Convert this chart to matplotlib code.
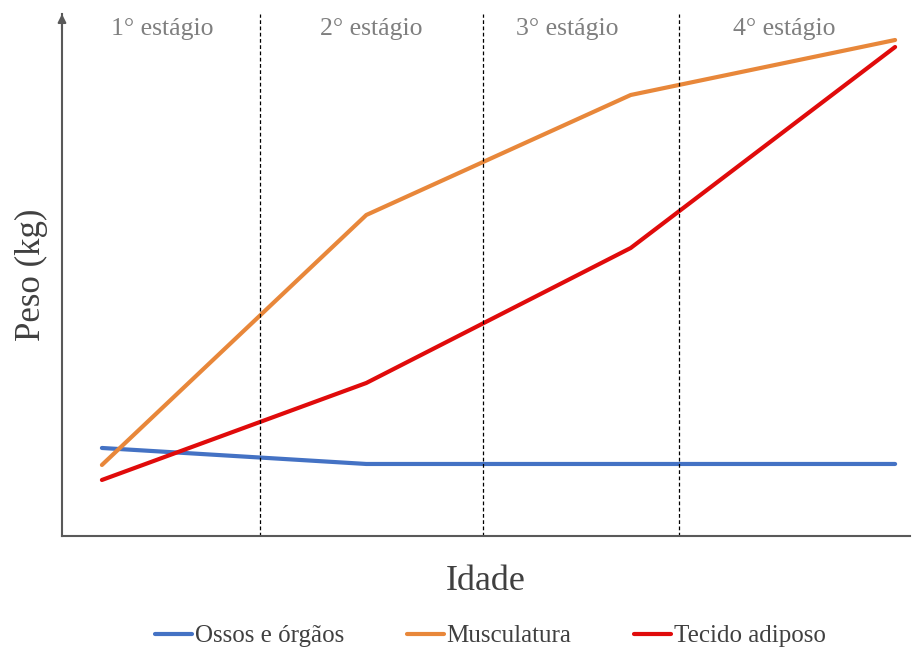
import numpy as np
import matplotlib.pyplot as plt

plt.rcParams['font.family'] = ['Liberation Serif', 'DejaVu Serif']

x = [0, 1, 2, 3]
ossos = [88, 72, 72, 72]
musculatura = [71, 321, 441, 496]
adiposo = [56, 153, 288, 489]
stage_bounds = [0.598, 1.441, 2.183]
stage_labels = ["1° estágio", "2° estágio", "3° estágio", "4° estágio"]
stage_centers = [0.227, 1.02, 1.76, 2.58]

fig = plt.figure(figsize=(9.13, 6.51), dpi=100)
ax = fig.add_axes([0.0679, 0.1767, 0.929, 0.8018])

ax.plot(x, ossos, color='#4472C4', lw=3, label='Ossos e órgãos', solid_capstyle='round')
ax.plot(x, musculatura, color='#E8873A', lw=3, label='Musculatura', solid_capstyle='round')
ax.plot(x, adiposo, color='#E00B0B', lw=3, label='Tecido adiposo', solid_capstyle='round')

for b in stage_bounds:
    ax.axvline(b, color='black', lw=0.9, ls=(0, (3, 2)))

for c, s in zip(stage_centers, stage_labels):
    ax.text(c, 507, s, ha='center', va='center', fontsize=18.5, color='#7f7f7f')

ax.set_xlim(-0.151, 3.057)
ax.set_ylim(0, 522)
ax.set_xticks([])
ax.set_yticks([])
for side in ['top', 'right']:
    ax.spines[side].set_visible(False)
for side in ['left', 'bottom']:
    ax.spines[side].set_color('#595959')
    ax.spines[side].set_linewidth(1.5)
ax.annotate('', xy=(0, 1.0), xycoords='axes fraction', xytext=(0, 0.97),
            arrowprops=dict(arrowstyle='-|>', color='#595959', lw=1.5,
                            mutation_scale=12, shrinkA=0, shrinkB=0))

ax.set_xlabel('Idade', fontsize=26, color='#404040', labelpad=21)
ax.set_ylabel('Peso (kg)', fontsize=25, color='#404040', labelpad=10)

fig.legend(loc='center', bbox_to_anchor=(0.537, 0.023), ncol=3, frameon=False,
           fontsize=18, handlelength=1.5, handletextpad=0.1, columnspacing=2.5,
           labelcolor='#404040')

fig.savefig('out.png', dpi=100)
